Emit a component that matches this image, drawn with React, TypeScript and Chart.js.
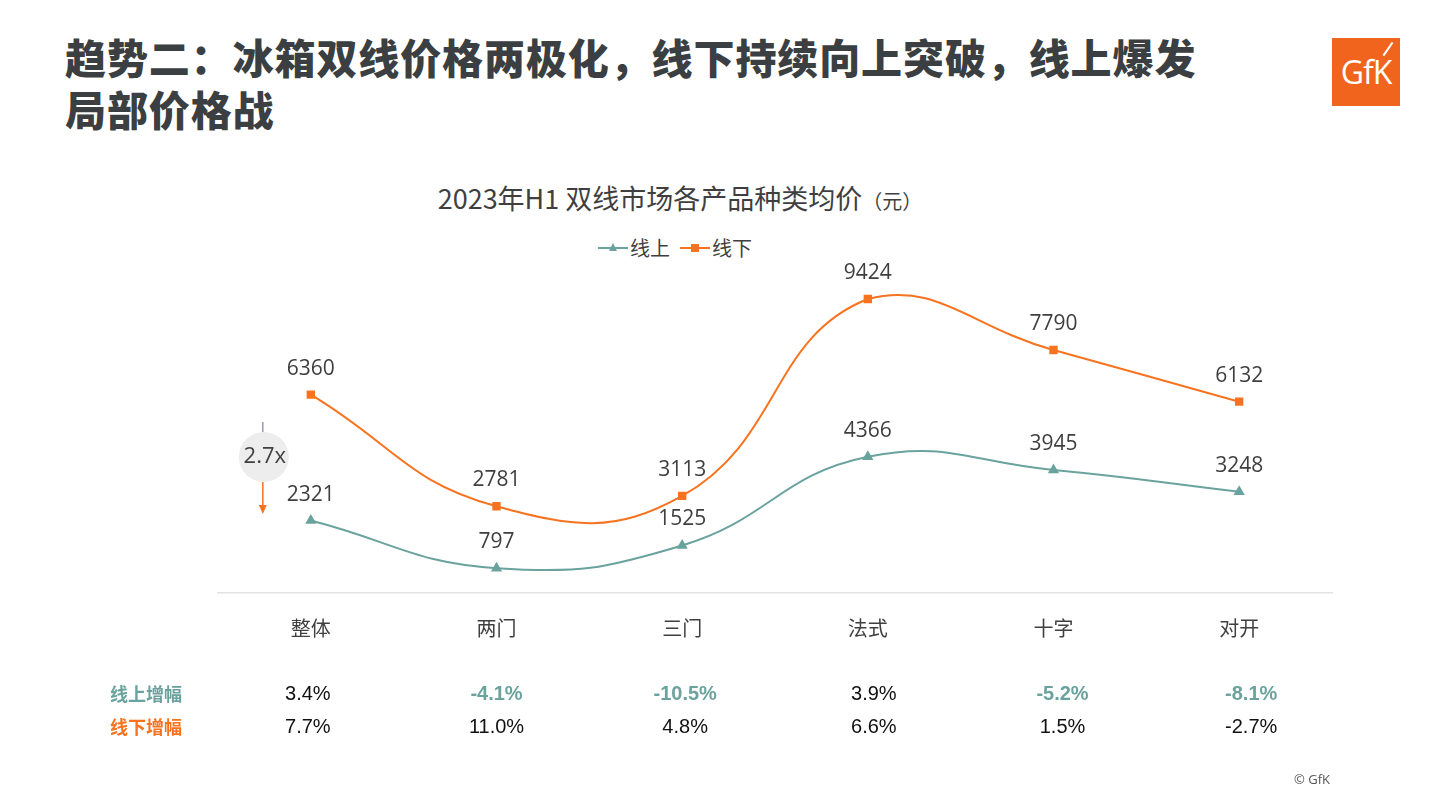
import React, { useEffect, useRef } from "react";
import { Chart, registerables } from "chart.js";

Chart.register(...registerables);

const categories = ["整体", "两门", "三门", "法式", "十字", "对开"];
const onlinePrice = [2321, 797, 1525, 4366, 3945, 3248];
const offlinePrice = [6360, 2781, 3113, 9424, 7790, 6132];
const onlineGrowth = ["3.4%", "-4.1%", "-10.5%", "3.9%", "-5.2%", "-8.1%"];
const offlineGrowth = ["7.7%", "11.0%", "4.8%", "6.6%", "1.5%", "-2.7%"];
const seriesNames = ["线上", "线下"];
const ratioLabel = "2.7x";

const TEAL = "#6aa39e";
const ORANGE = "#f7731f";
const TEXT = "#3f3f3f";
const FONT = '"Noto Sans CJK SC", "Noto Sans", sans-serif';
const NUMFONT = '"Open Sans", "Noto Sans", sans-serif';

const overlayPlugin = {
  id: "overlay",
  afterDatasetsDraw(chart: any) {
    const ctx = chart.ctx;
    const xs = chart.scales.x;
    ctx.save();
    // data labels
    ctx.font = `21px ${NUMFONT}`;
    ctx.fillStyle = TEXT;
    ctx.textAlign = "center";
    ctx.textBaseline = "middle";
    chart.data.datasets.forEach((ds: any, di: number) => {
      const meta = chart.getDatasetMeta(di);
      meta.data.forEach((pt: any, i: number) => {
        ctx.fillText(String(ds.data[i]), pt.x, pt.y - 26);
      });
    });

    // 2.7x bubble
    const x0 = xs.getPixelForValue(0) - 47;
    const yc = 457;
    ctx.strokeStyle = "#7f7f9a";
    ctx.lineWidth = 1.2;
    ctx.beginPath();
    ctx.moveTo(x0 - 1, 422);
    ctx.lineTo(x0 - 1, 432);
    ctx.stroke();
    ctx.fillStyle = "#ededed";
    ctx.beginPath();
    ctx.arc(x0, yc, 25, 0, Math.PI * 2);
    ctx.fill();
    ctx.strokeStyle = ORANGE;
    ctx.lineWidth = 1.5;
    ctx.beginPath();
    ctx.moveTo(x0 - 1, 482);
    ctx.lineTo(x0 - 1, 508);
    ctx.stroke();
    ctx.fillStyle = ORANGE;
    ctx.beginPath();
    ctx.moveTo(x0 - 5, 505);
    ctx.lineTo(x0 + 3, 505);
    ctx.lineTo(x0 - 1, 514);
    ctx.closePath();
    ctx.fill();
    ctx.fillStyle = TEXT;
    ctx.font = `22px ${NUMFONT}`;
    ctx.fillText(ratioLabel, x0 + 1, yc);

    // growth table
    const rowY = [694, 727];
    ctx.font = `bold 18px ${FONT}`;
    ctx.fillStyle = TEAL;
    ctx.fillText("线上增幅", 146, rowY[0]);
    ctx.fillStyle = ORANGE;
    ctx.fillText("线下增幅", 146, rowY[1]);
    [onlineGrowth, offlineGrowth].forEach((row, r) => {
      row.forEach((v, i) => {
        const x = xs.getPixelForValue(i) + (i - 1) * 3;
        const neg = r === 0 && v.startsWith("-");
        ctx.font = neg ? `bold 20px "Liberation Sans", Arial, sans-serif` : `20px "Liberation Sans", Arial, sans-serif`;
        ctx.fillStyle = neg ? TEAL : "#111";
        ctx.fillText(v, x, rowY[r]);
      });
    });
    ctx.restore();
  },
};

function Legend() {
  const item = (color: string, shape: "tri" | "sq", label: string) => (
    <div style={{ display: "flex", alignItems: "center", marginRight: 10 }}>
      <div style={{ position: "relative", width: 30, height: 14 }}>
        <div style={{ position: "absolute", left: 0, right: 0, top: 6, height: 2, background: color }} />
        {shape === "sq" ? (
          <div style={{ position: "absolute", left: 11, top: 3, width: 8, height: 8, background: color }} />
        ) : (
          <div
            style={{
              position: "absolute",
              left: 11,
              top: 2,
              width: 0,
              height: 0,
              borderLeft: "4px solid transparent",
              borderRight: "4px solid transparent",
              borderBottom: `8px solid ${color}`,
            }}
          />
        )}
      </div>
      <span style={{ fontSize: 20, color: TEXT, marginLeft: 2 }}>{label}</span>
    </div>
  );
  return (
    <div
      style={{
        position: "absolute",
        left: 0,
        width: 1360,
        top: 233,
        display: "flex",
        justifyContent: "center",
        fontFamily: FONT,
      }}
    >
      {item(TEAL, "tri", seriesNames[0])}
      {item(ORANGE, "sq", seriesNames[1])}
    </div>
  );
}

export default function App() {
  const ref = useRef<HTMLCanvasElement | null>(null);
  useEffect(() => {
    if (!ref.current) return;
    const chart = new Chart(ref.current, {
      type: "line",
      data: {
        labels: categories,
        datasets: [
          {
            label: seriesNames[0],
            data: onlinePrice,
            borderColor: TEAL,
            backgroundColor: TEAL,
            borderWidth: 2,
            pointStyle: "triangle",
            pointRadius: 4.5,
            tension: 0.45,
            clip: false,
          },
          {
            label: seriesNames[1],
            data: offlinePrice,
            borderColor: ORANGE,
            backgroundColor: ORANGE,
            borderWidth: 2,
            pointStyle: "rect",
            pointRadius: 4.5,
            tension: 0.45,
            clip: false,
          },
        ],
      },
      options: {
        animation: false,
        responsive: false,
        layout: { padding: { left: 218, right: 109, top: 281, bottom: 147 } },
        plugins: { legend: { display: false }, title: { display: false }, tooltip: { enabled: false } },
        scales: {
          y: { display: false, min: 0, max: 10000 },
          x: {
            offset: true,
            grid: { display: false, drawTicks: false },
            border: { display: true, color: "#e3e3e3", width: 1.5 },
            ticks: { padding: 23, color: TEXT, font: { size: 20, family: FONT } },
          },
        },
      },
      plugins: [overlayPlugin],
    });
    return () => chart.destroy();
  }, []);

  return (
    <div style={{ position: "absolute", left: 0, top: 0, width: 1441, height: 810, background: "#fff", overflow: "hidden", fontFamily: FONT }}>
      <div
        style={{
          position: "absolute",
          left: 65,
          top: 30,
          fontSize: 41,
          fontWeight: 900,
          lineHeight: "52px",
          color: "#3b3f42",
          letterSpacing: 0.9,
          whiteSpace: "nowrap",
        }}
      >
        趋势二：冰箱双线价格两极化，线下持续向上突破，线上爆发
        <br />
        局部价格战
      </div>
      <div style={{ position: "absolute", left: 1332, top: 38, width: 68, height: 68, background: "#f0641e" }}>
        <div
          style={{
            position: "absolute",
            left: 0,
            right: 0,
            top: 16,
            textAlign: "center",
            color: "#fff",
            fontFamily: '"Open Sans", sans-serif',
            fontSize: 32,
            lineHeight: "36px",
            letterSpacing: -1,
          }}
        >
          GfK
        </div>
        <div style={{ position: "absolute", left: 55, top: 3, width: 2, height: 16, background: "#fff", transform: "rotate(35deg)" }} />
      </div>
      <div
        style={{
          position: "absolute",
          left: 0,
          width: 1360,
          top: 180,
          textAlign: "center",
          color: TEXT,
          fontSize: 27,
          lineHeight: "36px",
        }}
      >
        2023年H1 双线市场各产品种类均价<span style={{ fontSize: 20 }}>（元）</span>
      </div>
      <Legend />
      <canvas ref={ref} width={1441} height={810} style={{ position: "absolute", left: 0, top: 0, width: 1441, height: 810 }} />
      <div style={{ position: "absolute", left: 1294, top: 770, fontSize: 13, color: "#555", fontFamily: '"Open Sans", sans-serif' }}>© GfK</div>
    </div>
  );
}
